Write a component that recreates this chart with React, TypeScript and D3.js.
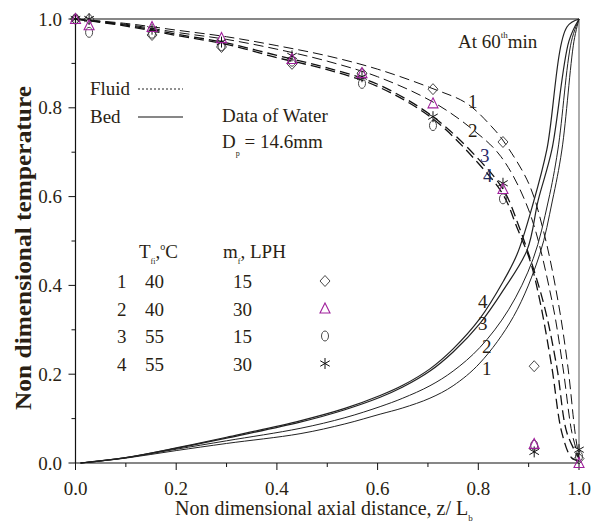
import React from "react";
import * as d3 from "d3";

// ---- data ----
const xTicks = [0, 0.2, 0.4, 0.6, 0.8, 1.0];
const xMinor = [0.1, 0.3, 0.5, 0.7, 0.9];
const yTicks = [0, 0.2, 0.4, 0.6, 0.8, 1.0];
const yMinor = [0.1, 0.3, 0.5, 0.7, 0.9];

// experimental points (z/Lb positions)
const zPts = [0, 0.027, 0.152, 0.29, 0.43, 0.569, 0.71, 0.849, 0.911, 1.0];
const diamondVals = [1.0, 1.0, 0.964, 0.937, 0.899, 0.878, 0.842, 0.723, 0.218, 0.01];
const triangleVals = [1.0, 0.986, 0.982, 0.957, 0.91, 0.878, 0.81, 0.617, 0.043, 0.0];
const circleVals = [1.0, 0.97, 0.968, 0.94, 0.905, 0.855, 0.76, 0.595, 0.04, 0.015];
const starVals = [1.0, 1.0, 0.977, 0.948, 0.917, 0.87, 0.78, 0.63, 0.025, 0.03];

// fluid (dashed) model curves
const fluid1: [number, number][] = [[0, 1], [0.1, 0.99], [0.2, 0.975], [0.3, 0.96], [0.4, 0.94], [0.5, 0.917], [0.6, 0.887], [0.71, 0.843], [0.777, 0.81], [0.827, 0.757], [0.85, 0.725], [0.9, 0.63], [0.93, 0.52], [0.958, 0.367], [0.978, 0.216], [0.992, 0.07], [1.0, 0.01]];
const fluid2: [number, number][] = [[0, 1], [0.1, 0.988], [0.2, 0.97], [0.3, 0.954], [0.4, 0.932], [0.5, 0.905], [0.6, 0.87], [0.71, 0.813], [0.79, 0.75], [0.845, 0.69], [0.9, 0.57], [0.946, 0.367], [0.968, 0.216], [0.986, 0.068], [1.0, 0.01]];
const fluid3: [number, number][] = [[0, 1], [0.1, 0.986], [0.2, 0.966], [0.3, 0.946], [0.4, 0.918], [0.5, 0.89], [0.6, 0.853], [0.71, 0.78], [0.8, 0.685], [0.85, 0.615], [0.88, 0.535], [0.928, 0.367], [0.956, 0.216], [0.976, 0.068], [1.0, 0.01]];
const fluid4: [number, number][] = [[0, 1], [0.1, 0.984], [0.2, 0.963], [0.3, 0.943], [0.4, 0.913], [0.5, 0.886], [0.6, 0.848], [0.71, 0.775], [0.8, 0.675], [0.85, 0.603], [0.877, 0.53], [0.903, 0.455], [0.922, 0.367], [0.946, 0.216], [0.966, 0.068], [0.985, 0.012], [1.0, 0.005]];

// bed (solid) model curves
const bed1: [number, number][] = [[0.01, 0], [0.1, 0.011], [0.2, 0.028], [0.3, 0.044], [0.446, 0.066], [0.535, 0.088], [0.605, 0.11], [0.65, 0.124], [0.704, 0.146], [0.75, 0.174], [0.803, 0.225], [0.87, 0.33], [0.922, 0.47], [0.947, 0.59], [0.966, 0.705], [0.99, 0.95], [1.0, 1.0]];
const bed2: [number, number][] = [[0.01, 0], [0.1, 0.012], [0.2, 0.031], [0.3, 0.05], [0.446, 0.078], [0.535, 0.102], [0.605, 0.127], [0.65, 0.146], [0.704, 0.174], [0.75, 0.207], [0.803, 0.26], [0.86, 0.345], [0.909, 0.46], [0.939, 0.59], [0.958, 0.705], [0.985, 0.95], [1.0, 1.0]];
const bed3: [number, number][] = [[0.01, 0], [0.1, 0.012], [0.2, 0.033], [0.3, 0.056], [0.446, 0.092], [0.535, 0.12], [0.605, 0.148], [0.65, 0.171], [0.704, 0.207], [0.75, 0.25], [0.803, 0.314], [0.85, 0.39], [0.897, 0.48], [0.919, 0.592], [0.946, 0.705], [0.98, 0.95], [1.0, 1.0]];
const bed4: [number, number][] = [[0.01, 0], [0.1, 0.012], [0.2, 0.034], [0.3, 0.058], [0.446, 0.095], [0.535, 0.123], [0.605, 0.152], [0.65, 0.175], [0.704, 0.212], [0.75, 0.257], [0.803, 0.325], [0.85, 0.41], [0.877, 0.47], [0.909, 0.585], [0.936, 0.705], [0.976, 0.982], [1.0, 1.0]];

const fluidCurves = [fluid1, fluid2, fluid3, fluid4];
const bedCurves = [bed1, bed2, bed3, bed4];

const tableIds = ["1", "2", "3", "4"];
const tableTf = ["40", "40", "55", "55"];
const tableMf = ["15", "30", "15", "30"];

const TXT = "#2a1f14";
const MAG = "#a0209c";
const FONT = "'Liberation Serif', 'Times New Roman', serif";

function Marker({ kind, cx, cy }: { kind: string; cx: number; cy: number }) {
  if (kind === "diamond") {
    return <path d={`M${cx},${cy - 5.5}L${cx + 5},${cy}L${cx},${cy + 5.5}L${cx - 5},${cy}Z`} fill="none" stroke="#333" strokeWidth={0.9} />;
  }
  if (kind === "triangle") {
    return <path d={`M${cx},${cy - 5.5}L${cx + 5},${cy + 4.5}L${cx - 5},${cy + 4.5}Z`} fill="none" stroke={MAG} strokeWidth={1.1} />;
  }
  if (kind === "circle") {
    return <ellipse cx={cx} cy={cy} rx={3.5} ry={5} fill="none" stroke="#333" strokeWidth={0.9} />;
  }
  const r = 5.5;
  const a = Math.PI / 6;
  return (
    <g stroke="#111" strokeWidth={1}>
      <line x1={cx} y1={cy - r} x2={cx} y2={cy + r} />
      <line x1={cx - r * Math.cos(a)} y1={cy - r * Math.sin(a)} x2={cx + r * Math.cos(a)} y2={cy + r * Math.sin(a)} />
      <line x1={cx - r * Math.cos(a)} y1={cy + r * Math.sin(a)} x2={cx + r * Math.cos(a)} y2={cy - r * Math.sin(a)} />
    </g>
  );
}

export default function App() {
  const W = 602, H = 525;
  const x = d3.scaleLinear().domain([0, 1]).range([75.5, 579]);
  const y = d3.scaleLinear().domain([0, 1]).range([463, 19]);
  const line = d3.line<[number, number]>().x((d) => x(d[0])).y((d) => y(d[1])).curve(d3.curveCatmullRom.alpha(0.5));
  const fmt = d3.format(".1f");

  const markerSets: [string, number[]][] = [
    ["diamond", diamondVals],
    ["circle", circleVals],
    ["star", starVals],
    ["triangle", triangleVals],
  ];
  const tableMarkers = ["diamond", "triangle", "circle", "star"];

  return (
    <svg width={W} height={H} style={{ position: "absolute", left: 0, top: 0, background: "#fff" }} fontFamily={FONT}>
      <rect x={0} y={0} width={W} height={H} fill="#fff" />
      <line x1={x(0)} y1={y(1)} x2={x(1)} y2={y(1)} stroke="#111" strokeWidth={1.2} />
      <line x1={x(1)} y1={y(1)} x2={x(1)} y2={y(0)} stroke="#888" strokeWidth={1.4} />

      {fluidCurves.map((c, i) => (
        <path key={"f" + i} d={line(c) || ""} fill="none" stroke="#111" strokeWidth={i >= 2 ? 1.3 : 1} strokeDasharray="10,5" />
      ))}
      {bedCurves.map((c, i) => (
        <path key={"b" + i} d={line(c) || ""} fill="none" stroke="#222" strokeWidth={i >= 2 ? 1.2 : 1} />
      ))}

      <line x1={x(0)} y1={y(0)} x2={x(1)} y2={y(0)} stroke="#111" strokeWidth={1.2} />
      <line x1={x(0)} y1={y(0)} x2={x(0)} y2={y(1)} stroke="#111" strokeWidth={1.2} />
      {xTicks.map((t) => (
        <g key={"xt" + t}>
          <line x1={x(t)} y1={y(0)} x2={x(t)} y2={y(0) + 7} stroke="#111" />
          <text x={x(t)} y={495} fontSize={19} textAnchor="middle" fill={TXT}>{fmt(t)}</text>
        </g>
      ))}
      {xMinor.map((t) => (
        <line key={"xm" + t} x1={x(t)} y1={y(0)} x2={x(t)} y2={y(0) + 4} stroke="#111" />
      ))}
      {yTicks.map((t) => (
        <g key={"yt" + t}>
          <line x1={x(0) - 7} y1={y(t)} x2={x(0)} y2={y(t)} stroke="#111" />
          <text x={62} y={y(t) + 6.5} fontSize={19} textAnchor="end" fill={TXT}>{fmt(t)}</text>
        </g>
      ))}
      {yMinor.map((t) => (
        <line key={"ym" + t} x1={x(0) - 4} y1={y(t)} x2={x(0)} y2={y(t)} stroke="#111" />
      ))}

      {markerSets.map(([kind, vals]) =>
        vals.map((v, i) => <Marker key={kind + i} kind={kind} cx={x(zPts[i])} cy={y(v)} />)
      )}

      <text x={175} y={515} fontSize={20} fill={TXT}>
        Non dimensional axial distance, z/ L<tspan fontSize={9} dy={6}>b</tspan>
      </text>
      <text transform="translate(31,248) rotate(-90)" fontSize={24} fontWeight="bold" textAnchor="middle" fill={TXT} textLength={324} lengthAdjust="spacingAndGlyphs">
        Non dimensional temperature
      </text>

      <text x={90} y={95} fontSize={19} fill={TXT}>Fluid</text>
      <line x1={138} y1={89} x2={183} y2={89} stroke="#222" strokeDasharray="2,2" />
      <text x={90} y={123} fontSize={19} fill={TXT}>Bed</text>
      <line x1={138} y1={117} x2={183} y2={117} stroke="#111" strokeWidth={1.2} />

      <text x={222} y={122} fontSize={19} fill={TXT}>Data of Water</text>
      <text x={222} y={148} fontSize={19} fill={TXT}>
        D<tspan fontSize={8} dy={8}>p</tspan><tspan dy={-8}> = 14.6mm</tspan>
      </text>
      <text x={458} y={48} fontSize={19} fill={TXT}>
        At 60<tspan fontSize={9} dy={-10}>th</tspan><tspan dy={10}>min</tspan>
      </text>

      <text x={139} y={258} fontSize={19} fill={TXT}>
        T<tspan fontSize={8} dy={6}>fi</tspan><tspan dy={-6}>,</tspan><tspan fontSize={10} dy={-8}>o</tspan><tspan dy={8}>C</tspan>
      </text>
      <text x={223} y={258} fontSize={19} fill={TXT}>
        m<tspan fontSize={8} dy={6}>f</tspan><tspan dy={-6}>, LPH</tspan>
      </text>
      {tableIds.map((id, i) => {
        const by = 288 + i * 27.5;
        return (
          <g key={"row" + id}>
            <text x={117} y={by} fontSize={19} fill={TXT}>{id}</text>
            <text x={145} y={by} fontSize={19} fill={TXT}>{tableTf[i]}</text>
            <text x={233} y={by} fontSize={19} fill={TXT}>{tableMf[i]}</text>
            <Marker kind={tableMarkers[i]} cx={325} cy={by - 7} />
          </g>
        );
      })}

      <text x={468} y={108} fontSize={19} fill={TXT}>1</text>
      <text x={468} y={137} fontSize={19} fill={TXT}>2</text>
      <text x={480} y={162} fontSize={19} fill="#2a2a6a">3</text>
      <text x={483} y={182} fontSize={19} fill="#1e2a5a">4</text>
      <text x={478} y={308} fontSize={19} fill={TXT}>4</text>
      <text x={478} y={330} fontSize={19} fill={TXT}>3</text>
      <text x={482} y={353} fontSize={19} fill={TXT}>2</text>
      <text x={482} y={375} fontSize={19} fill={TXT}>1</text>
    </svg>
  );
}
